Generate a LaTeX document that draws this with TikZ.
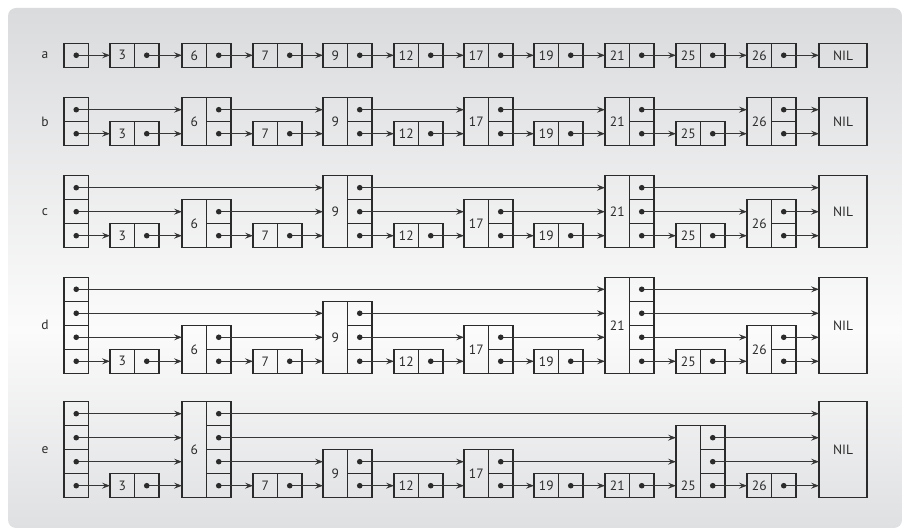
\documentclass[tikz,border=0pt]{standalone}
\usepackage{fontspec}
\setmainfont{PT Sans}
\usetikzlibrary{arrows.meta}
\definecolor{ink}{HTML}{2B2B2B}
\definecolor{wire}{HTML}{363636}
\definecolor{bgtop}{HTML}{DADBDD}
\definecolor{bgmid}{HTML}{FBFBFB}
\definecolor{bgbot}{HTML}{DFE0E2}
\tikzset{
  cell/.style={draw=ink,line width=1.2pt,inner sep=0pt,outer sep=0pt,minimum width=24.5pt,minimum height=24pt},
  num/.style={inner sep=0pt,text=ink,font=\fontsize{13.5}{15}\selectfont},
  nilbox/.style={cell,num,minimum width=48pt},
  rowlbl/.style={num},
  ptr/.style={draw=wire,line width=1pt,-{Stealth[length=8pt,width=6pt,inset=3pt]}},
  dotmark/.style={fill=ink},
}
\newcommand\listrow[6]{%
  % #1 name, #2 label, #3 bottom y, #4 header levels, #5 element levels, #6 index of element with low key text
  \node[rowlbl] (#1-lbl) at (45,#3-#4*12) {#2};
  \foreach \jj in {1,...,#4}{
    \node[cell] (#1-h-\jj) at (76.25,#3-\jj*24+12) {};
  }
  \foreach \lev [count=\ii] in {#5}{
    \pgfmathsetmacro\kx{{110,182,253,323,394,464,534,605,676,747}[\ii-1]}
    \pgfmathtruncatemacro\val{{3,6,7,9,12,17,19,21,25,26}[\ii-1]}
    \pgfmathsetmacro\ty{ifthenelse(\ii==#6,#3-12,#3-\lev*12)}
    \node[cell,minimum height=\lev*24pt] (#1-\ii-k) at (\kx+12.25,#3-\lev*12) {};
    \node[num] (#1-\ii-t) at (\kx+12.25,\ty) {\val};
    \foreach \jj in {1,...,\lev}{
      \node[cell] (#1-\ii-\jj) at (\kx+36.75,#3-\jj*24+12) {};
    }
  }
  \node[nilbox,minimum height=#4*24pt] (#1-nil) at (843,#3-#4*12) {NIL};
  \foreach \jj in {1,...,#4}{
    \xdef\prev{#1-h}
    \foreach \lev [count=\ii] in {#5}{
      \ifnum\lev<\jj\relax\else
        \draw[ptr] (\prev-\jj.center) -- (#1-\ii-k.west |- \prev-\jj.center);
        \xdef\prev{#1-\ii}
      \fi
    }
    \draw[ptr] (\prev-\jj.center) -- (#1-nil.west |- \prev-\jj.center);
  }
  \foreach \jj in {1,...,#4}{\fill[dotmark] (#1-h-\jj.center) circle (2.8pt);}
  \foreach \lev [count=\ii] in {#5}{
    \foreach \jj in {1,...,\lev}{\fill[dotmark] (#1-\ii-\jj.center) circle (2.8pt);}
  }
}
\begin{document}
\begin{tikzpicture}[x=1pt,y=-1pt]
\useasboundingbox (0,0) rectangle (906,529);
\begin{scope}
  \clip[rounded corners=8pt] (8,8) rectangle (902,528);
  \shade[top color=bgtop,bottom color=bgmid] (8,8) rectangle (902,330);
  \shade[top color=bgmid,bottom color=bgbot] (8,329.5) rectangle (902,528);
\end{scope}
\listrow{a}{a}{67.3}{1}{1,1,1,1,1,1,1,1,1,1}{0}
\listrow{b}{b}{145.7}{2}{1,2,1,2,1,2,1,2,1,2}{0}
\listrow{c}{c}{247.7}{3}{1,2,1,3,1,2,1,3,1,2}{0}
\listrow{d}{d}{373.3}{4}{1,2,1,3,1,2,1,4,1,2}{0}
\listrow{e}{e}{497.7}{4}{1,4,1,2,1,2,1,1,3,1}{9}
\end{tikzpicture}
\end{document}
